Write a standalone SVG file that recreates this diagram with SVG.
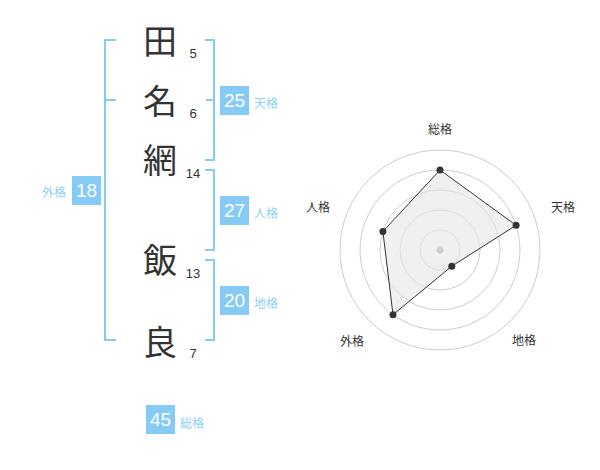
<svg xmlns="http://www.w3.org/2000/svg" width="600" height="470" viewBox="0 0 600 470">
<style>
.ch{font-family:"Noto Sans CJK JP","Noto Sans CJK SC",sans-serif;font-size:34px;fill:#333;text-anchor:middle}
.st{font-family:"Liberation Sans",Arial,sans-serif;font-size:13px;fill:#333;text-anchor:middle}
.br{fill:none;stroke:#85cbf5;stroke-width:2}
.box{fill:#85cbf5}
.bn{font-family:"Liberation Sans",Arial,sans-serif;font-size:19px;fill:#fff;text-anchor:middle}
.lb{font-family:"Noto Sans CJK JP","Noto Sans CJK SC",sans-serif;font-size:12px;fill:#8fd0f5}
.ring{fill:none;stroke:#ccc;stroke-width:1}
.ax{font-family:"Noto Sans CJK JP","Noto Sans CJK SC",sans-serif;font-size:12px;fill:#333;text-anchor:middle}
.dot{fill:#333}
</style>
<rect width="600" height="470" fill="#fff"/>
<g id="chars">
<g id="c1"><text class="ch" x="160" y="54">田</text><text class="st" x="193" y="58">5</text></g>
<g id="c2"><text class="ch" x="160" y="114">名</text><text class="st" x="193" y="118">6</text></g>
<g id="c3"><text class="ch" x="160" y="173">網</text><text class="st" x="193" y="178">14</text></g>
<g id="c4"><text class="ch" x="160" y="273">飯</text><text class="st" x="193" y="278">13</text></g>
<g id="c5"><text class="ch" x="160" y="355">良</text><text class="st" x="193" y="358">7</text></g>
</g>
<g id="brackets">
<path class="br" d="M116,40 H105 V340 H116 M105,100 H116"/>
<path class="br" d="M205,40 H214 V160 H205 M206,100 H214"/>
<path class="br" d="M205,170 H214 V250 H205"/>
<path class="br" d="M205,260 H214 V340 H205"/>
</g>
<g id="tenkaku"><rect class="box" x="220" y="86" width="29" height="29"/><text class="bn" x="234.5" y="107">25</text><text class="lb" x="254" y="108">天格</text></g>
<g id="jinkaku"><rect class="box" x="220" y="196" width="29" height="29"/><text class="bn" x="234.5" y="217">27</text><text class="lb" x="254" y="218">人格</text></g>
<g id="chikaku"><rect class="box" x="220" y="286" width="29" height="29"/><text class="bn" x="234.5" y="307">20</text><text class="lb" x="254" y="308">地格</text></g>
<g id="gaikaku"><rect class="box" x="72" y="176" width="29" height="29"/><text class="bn" x="86.5" y="197">18</text><text class="lb" x="66" y="197" text-anchor="end">外格</text></g>
<g id="soukaku"><rect class="box" x="146" y="405" width="29" height="29"/><text class="bn" x="160.5" y="426">45</text><text class="lb" x="180" y="428">総格</text></g>
<g id="radar">
<circle class="ring" cx="440" cy="250" r="20"/>
<circle class="ring" cx="440" cy="250" r="40"/>
<circle class="ring" cx="440" cy="250" r="60"/>
<circle class="ring" cx="440" cy="250" r="80"/>
<circle class="ring" cx="440" cy="250" r="100"/>
<polygon points="440,170 516.1,225.3 451.8,266.2 393,314.7 382.9,231.5" fill="#e6e6e6" fill-opacity="0.6" stroke="#333" stroke-width="1"/>
<circle cx="440" cy="250" r="3.5" fill="#ccc"/>
<circle class="dot" cx="440" cy="170" r="3.5"/>
<circle class="dot" cx="516.1" cy="225.3" r="3.5"/>
<circle class="dot" cx="451.8" cy="266.2" r="3.5"/>
<circle class="dot" cx="393" cy="314.7" r="3.5"/>
<circle class="dot" cx="382.9" cy="231.5" r="3.5"/>
<text class="ax" x="440" y="134">総格</text>
<text class="ax" x="563" y="212">天格</text>
<text class="ax" x="524" y="345">地格</text>
<text class="ax" x="352" y="346">外格</text>
<text class="ax" x="318" y="212">人格</text>
</g>
</svg>
